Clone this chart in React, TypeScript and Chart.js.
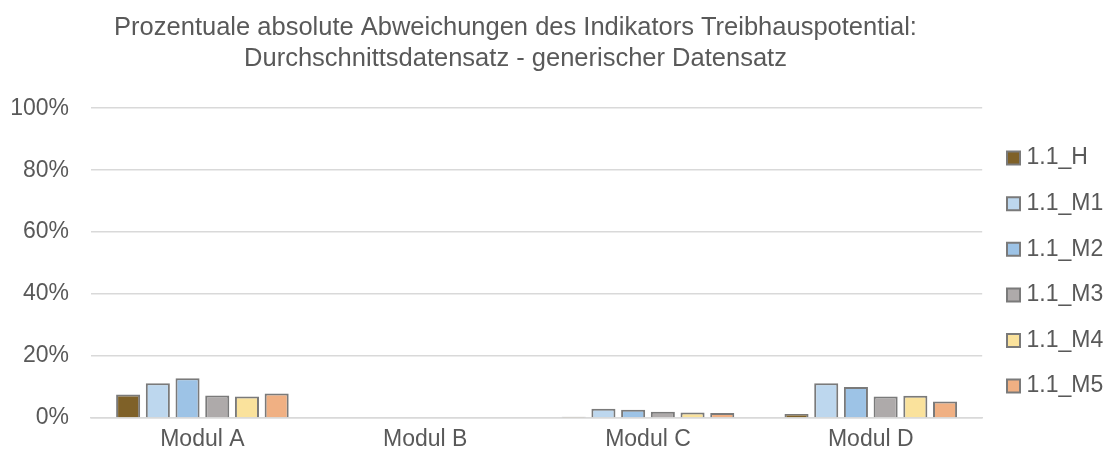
import React, { useEffect, useRef } from "react";
import { Chart, registerables } from "chart.js";

Chart.register(...registerables);

const categories = ["Modul A", "Modul B", "Modul C", "Modul D"];
const seriesNames = ["1.1_H", "1.1_M1", "1.1_M2", "1.1_M3", "1.1_M4", "1.1_M5"];
const valuesH = [7.6, 0, 0.4, 1.3];
const valuesM1 = [11.2, 0, 3.0, 11.2];
const valuesM2 = [12.8, 0, 2.7, 10.0];
const valuesM3 = [7.3, 0, 2.0, 6.9];
const valuesM4 = [6.9, 0, 1.8, 7.2];
const valuesM5 = [7.9, 0, 1.6, 5.3];
const seriesColors = ["#7F6128", "#BDD7EE", "#9DC3E6", "#AEAAAA", "#FAE29C", "#F0B083"];
const yTicks = [0, 20, 40, 60, 80, 100];

const FONT = "'Liberation Sans', Arial, sans-serif";
const TEXT = "#595959";

const placement = {
  id: "placement",
  afterLayout(chart: any) {
    const L = chart.legend;
    if (L) {
      const dx = 989.4 - L.left;
      L.left += dx;
      L.right += dx;
      const dy = 124 - L.top;
      L.top += dy;
      L.bottom += dy;
    }
    const T = chart.titleBlock;
    if (T) {
      T.left = 10;
      T.right = 1021;
    }
  },
};

export default function App() {
  const ref = useRef<HTMLCanvasElement | null>(null);
  useEffect(() => {
    if (!ref.current) return;
    const all = [valuesH, valuesM1, valuesM2, valuesM3, valuesM4, valuesM5];
    const chart = new Chart(ref.current, {
      type: "bar",
      data: {
        labels: categories,
        datasets: all.map((d, i) => ({
          label: seriesNames[i],
          data: d,
          backgroundColor: seriesColors[i],
          borderColor: "#7A7A7A",
          borderWidth: 2,
          categoryPercentage: 0.8,
          barPercentage: 0.81,
        })),
      },
      plugins: [placement],
      options: {
        animation: false,
        responsive: false,
        maintainAspectRatio: false,
        layout: { padding: { left: 10, right: 1, top: 13, bottom: 0 } },
        plugins: {
          title: {
            display: true,
            text: [
              "Prozentuale absolute Abweichungen des Indikators Treibhauspotential:",
              "Durchschnittsdatensatz - generischer Datensatz",
            ],
            color: TEXT,
            font: { family: FONT, size: 25.5, weight: "normal" },
            padding: { top: 0, bottom: 34 },
            lineHeight: 1.2,
          },
          legend: {
            position: "right",
            align: "start",
            labels: {
              color: TEXT,
              font: { family: FONT, size: 23 },
              usePointStyle: true,
              pointStyle: "rect",
              boxWidth: 3,
              boxHeight: 13,
              padding: 22.6,
            },
          },
          tooltip: { enabled: false },
        },
        scales: {
          x: {
            grid: { display: false, drawTicks: false },
            border: { color: "#D9D9D9", width: 1.5 },
            ticks: { color: TEXT, font: { family: FONT, size: 23 }, padding: 8 },
            afterFit: (axis: any) => {
              axis.height = 37;
            },
          },
          y: {
            min: 0,
            max: 100,
            afterBuildTicks: (axis: any) => {
              axis.ticks = yTicks.map((v) => ({ value: v }));
            },
            afterFit: (axis: any) => {
              axis.width = 81;
            },
            grid: { color: "#D9D9D9", lineWidth: 1.5, drawTicks: false },
            border: { display: false },
            ticks: {
              color: TEXT,
              font: { family: FONT, size: 23 },
              padding: 22,
              callback: (v: any) => v + "%",
            },
          },
        },
      },
    });
    return () => chart.destroy();
  }, []);
  return (
    <div style={{ position: "fixed", left: 0, top: 0, width: 1107, height: 455, background: "#fff" }}>
      <canvas ref={ref} width={1107} height={455} style={{ width: 1107, height: 455 }} />
    </div>
  );
}
